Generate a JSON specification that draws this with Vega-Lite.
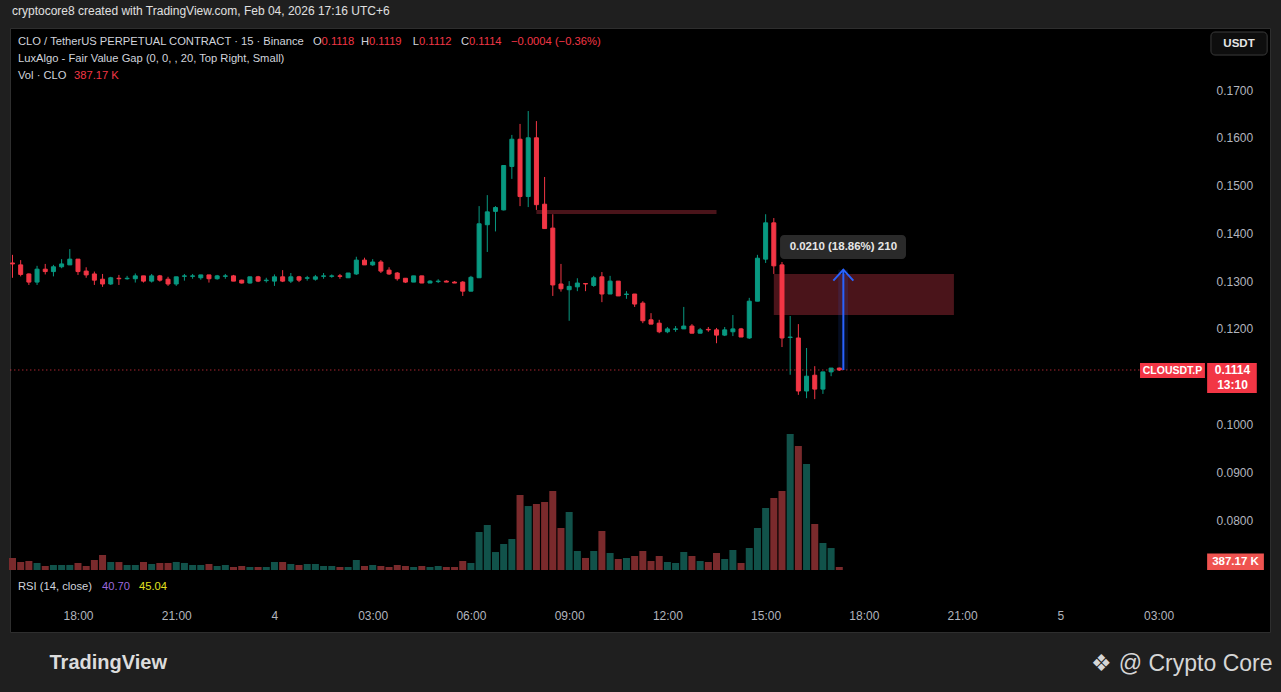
{
  "$schema": "https://vega.github.io/schema/vega-lite/v6.json",
  "width": 1260,
  "height": 604,
  "autosize": {"type": "none"},
  "padding": {"left": 10, "top": 28, "right": 11, "bottom": 60},
  "background": "#1f1f1f",
  "config": {
    "view": {"fill": "#000000", "stroke": "#2e2e2e"},
    "font": "Liberation Sans",
    "text": {"font": "Liberation Sans"}
  },
  "title": {
    "text": "cryptocore8 created with TradingView.com, Feb 04, 2026 17:16 UTC+6",
    "anchor": "start",
    "frame": "group",
    "dx": 2,
    "offset": 10,
    "fontSize": 12,
    "fontWeight": "normal",
    "font": "Liberation Sans",
    "color": "#e0e0e0"
  },
  "datasets": {
    "candles": [
      {"t": "2026-02-03T16:00Z", "o": 0.1338, "h": 0.1355, "l": 0.1307, "c": 0.1336, "v": 1551240},
      {"t": "2026-02-03T16:15Z", "o": 0.1334, "h": 0.1344, "l": 0.1310, "c": 0.1314, "v": 1029870},
      {"t": "2026-02-03T16:30Z", "o": 0.1315, "h": 0.1316, "l": 0.1292, "c": 0.1298, "v": 1164330},
      {"t": "2026-02-03T16:45Z", "o": 0.1298, "h": 0.1332, "l": 0.1292, "c": 0.1325, "v": 902150},
      {"t": "2026-02-03T17:00Z", "o": 0.1325, "h": 0.1336, "l": 0.1314, "c": 0.1320, "v": 518760},
      {"t": "2026-02-03T17:15Z", "o": 0.1320, "h": 0.1334, "l": 0.1310, "c": 0.1330, "v": 641920},
      {"t": "2026-02-03T17:30Z", "o": 0.1330, "h": 0.1346, "l": 0.1327, "c": 0.1336, "v": 647310},
      {"t": "2026-02-03T17:45Z", "o": 0.1334, "h": 0.1367, "l": 0.1334, "c": 0.1346, "v": 650480},
      {"t": "2026-02-03T18:00Z", "o": 0.1346, "h": 0.1346, "l": 0.1313, "c": 0.1320, "v": 906720},
      {"t": "2026-02-03T18:15Z", "o": 0.1321, "h": 0.1329, "l": 0.1307, "c": 0.1313, "v": 512640},
      {"t": "2026-02-03T18:30Z", "o": 0.1315, "h": 0.1320, "l": 0.1292, "c": 0.1302, "v": 1287550},
      {"t": "2026-02-03T18:45Z", "o": 0.1304, "h": 0.1315, "l": 0.1288, "c": 0.1294, "v": 1938410},
      {"t": "2026-02-03T19:00Z", "o": 0.1294, "h": 0.1309, "l": 0.1292, "c": 0.1307, "v": 1034760},
      {"t": "2026-02-03T19:15Z", "o": 0.1306, "h": 0.1313, "l": 0.1292, "c": 0.1305, "v": 1028300},
      {"t": "2026-02-03T19:30Z", "o": 0.1305, "h": 0.1311, "l": 0.1303, "c": 0.1306, "v": 644180},
      {"t": "2026-02-03T19:45Z", "o": 0.1305, "h": 0.1316, "l": 0.1297, "c": 0.1311, "v": 648920},
      {"t": "2026-02-03T20:00Z", "o": 0.1311, "h": 0.1311, "l": 0.1297, "c": 0.1300, "v": 1031570},
      {"t": "2026-02-03T20:15Z", "o": 0.1300, "h": 0.1315, "l": 0.1297, "c": 0.1311, "v": 771230},
      {"t": "2026-02-03T20:30Z", "o": 0.1311, "h": 0.1313, "l": 0.1299, "c": 0.1302, "v": 905660},
      {"t": "2026-02-03T20:45Z", "o": 0.1304, "h": 0.1309, "l": 0.1290, "c": 0.1294, "v": 899480},
      {"t": "2026-02-03T21:00Z", "o": 0.1294, "h": 0.1309, "l": 0.1290, "c": 0.1309, "v": 1036920},
      {"t": "2026-02-03T21:15Z", "o": 0.1310, "h": 0.1315, "l": 0.1301, "c": 0.1311, "v": 907140},
      {"t": "2026-02-03T21:30Z", "o": 0.1310, "h": 0.1315, "l": 0.1305, "c": 0.1311, "v": 643750},
      {"t": "2026-02-03T21:45Z", "o": 0.1307, "h": 0.1313, "l": 0.1303, "c": 0.1313, "v": 646210},
      {"t": "2026-02-03T22:00Z", "o": 0.1313, "h": 0.1313, "l": 0.1297, "c": 0.1305, "v": 776840},
      {"t": "2026-02-03T22:15Z", "o": 0.1305, "h": 0.1313, "l": 0.1303, "c": 0.1311, "v": 514970},
      {"t": "2026-02-03T22:30Z", "o": 0.1310, "h": 0.1315, "l": 0.1305, "c": 0.1311, "v": 645390},
      {"t": "2026-02-03T22:45Z", "o": 0.1311, "h": 0.1313, "l": 0.1300, "c": 0.1300, "v": 389620},
      {"t": "2026-02-03T23:00Z", "o": 0.1302, "h": 0.1303, "l": 0.1295, "c": 0.1296, "v": 517830},
      {"t": "2026-02-03T23:15Z", "o": 0.1296, "h": 0.1309, "l": 0.1295, "c": 0.1309, "v": 384910},
      {"t": "2026-02-03T23:30Z", "o": 0.1309, "h": 0.1311, "l": 0.1298, "c": 0.1300, "v": 388270},
      {"t": "2026-02-03T23:45Z", "o": 0.1301, "h": 0.1307, "l": 0.1297, "c": 0.1302, "v": 386450},
      {"t": "2026-02-04T00:00Z", "o": 0.1300, "h": 0.1314, "l": 0.1290, "c": 0.1309, "v": 1033180},
      {"t": "2026-02-04T00:15Z", "o": 0.1309, "h": 0.1323, "l": 0.1298, "c": 0.1300, "v": 1030640},
      {"t": "2026-02-04T00:30Z", "o": 0.1300, "h": 0.1317, "l": 0.1296, "c": 0.1309, "v": 772510},
      {"t": "2026-02-04T00:45Z", "o": 0.1309, "h": 0.1311, "l": 0.1298, "c": 0.1302, "v": 646830},
      {"t": "2026-02-04T01:00Z", "o": 0.1306, "h": 0.1311, "l": 0.1301, "c": 0.1307, "v": 775960},
      {"t": "2026-02-04T01:15Z", "o": 0.1304, "h": 0.1313, "l": 0.1301, "c": 0.1309, "v": 773420},
      {"t": "2026-02-04T01:30Z", "o": 0.1310, "h": 0.1317, "l": 0.1305, "c": 0.1311, "v": 515280},
      {"t": "2026-02-04T01:45Z", "o": 0.1310, "h": 0.1314, "l": 0.1307, "c": 0.1311, "v": 517640},
      {"t": "2026-02-04T02:00Z", "o": 0.1311, "h": 0.1315, "l": 0.1305, "c": 0.1310, "v": 386930},
      {"t": "2026-02-04T02:15Z", "o": 0.1307, "h": 0.1317, "l": 0.1307, "c": 0.1317, "v": 388740},
      {"t": "2026-02-04T02:30Z", "o": 0.1315, "h": 0.1351, "l": 0.1313, "c": 0.1344, "v": 1292460},
      {"t": "2026-02-04T02:45Z", "o": 0.1344, "h": 0.1349, "l": 0.1334, "c": 0.1334, "v": 515730},
      {"t": "2026-02-04T03:00Z", "o": 0.1334, "h": 0.1346, "l": 0.1332, "c": 0.1340, "v": 644560},
      {"t": "2026-02-04T03:15Z", "o": 0.1340, "h": 0.1344, "l": 0.1317, "c": 0.1321, "v": 519410},
      {"t": "2026-02-04T03:30Z", "o": 0.1323, "h": 0.1329, "l": 0.1313, "c": 0.1315, "v": 387850},
      {"t": "2026-02-04T03:45Z", "o": 0.1317, "h": 0.1319, "l": 0.1301, "c": 0.1305, "v": 646970},
      {"t": "2026-02-04T04:00Z", "o": 0.1306, "h": 0.1306, "l": 0.1296, "c": 0.1298, "v": 513290},
      {"t": "2026-02-04T04:15Z", "o": 0.1298, "h": 0.1311, "l": 0.1298, "c": 0.1311, "v": 385770},
      {"t": "2026-02-04T04:30Z", "o": 0.1311, "h": 0.1311, "l": 0.1296, "c": 0.1296, "v": 516480},
      {"t": "2026-02-04T04:45Z", "o": 0.1296, "h": 0.1302, "l": 0.1296, "c": 0.1300, "v": 388160},
      {"t": "2026-02-04T05:00Z", "o": 0.1299, "h": 0.1304, "l": 0.1296, "c": 0.1300, "v": 514610},
      {"t": "2026-02-04T05:15Z", "o": 0.1300, "h": 0.1302, "l": 0.1298, "c": 0.1298, "v": 386220},
      {"t": "2026-02-04T05:30Z", "o": 0.1298, "h": 0.1300, "l": 0.1296, "c": 0.1296, "v": 389410},
      {"t": "2026-02-04T05:45Z", "o": 0.1298, "h": 0.1300, "l": 0.1269, "c": 0.1279, "v": 1163870},
      {"t": "2026-02-04T06:00Z", "o": 0.1279, "h": 0.1311, "l": 0.1279, "c": 0.1308, "v": 904380},
      {"t": "2026-02-04T06:15Z", "o": 0.1307, "h": 0.1457, "l": 0.1307, "c": 0.1420, "v": 4898650},
      {"t": "2026-02-04T06:30Z", "o": 0.1418, "h": 0.1480, "l": 0.1361, "c": 0.1445, "v": 5807920},
      {"t": "2026-02-04T06:45Z", "o": 0.1446, "h": 0.1457, "l": 0.1404, "c": 0.1454, "v": 2318460},
      {"t": "2026-02-04T07:00Z", "o": 0.1449, "h": 0.1543, "l": 0.1448, "c": 0.1542, "v": 3357210},
      {"t": "2026-02-04T07:15Z", "o": 0.1540, "h": 0.1606, "l": 0.1514, "c": 0.1597, "v": 3996840},
      {"t": "2026-02-04T07:30Z", "o": 0.1597, "h": 0.1629, "l": 0.1457, "c": 0.1477, "v": 9678530},
      {"t": "2026-02-04T07:45Z", "o": 0.1477, "h": 0.1656, "l": 0.1455, "c": 0.1600, "v": 8251960},
      {"t": "2026-02-04T08:00Z", "o": 0.1600, "h": 0.1635, "l": 0.1449, "c": 0.1460, "v": 8517340},
      {"t": "2026-02-04T08:15Z", "o": 0.1461, "h": 0.1518, "l": 0.1410, "c": 0.1410, "v": 8769180},
      {"t": "2026-02-04T08:30Z", "o": 0.1411, "h": 0.1440, "l": 0.1269, "c": 0.1292, "v": 10187620},
      {"t": "2026-02-04T08:45Z", "o": 0.1294, "h": 0.1336, "l": 0.1278, "c": 0.1284, "v": 5421370},
      {"t": "2026-02-04T09:00Z", "o": 0.1282, "h": 0.1300, "l": 0.1217, "c": 0.1289, "v": 7485940},
      {"t": "2026-02-04T09:15Z", "o": 0.1288, "h": 0.1306, "l": 0.1279, "c": 0.1296, "v": 2447830},
      {"t": "2026-02-04T09:30Z", "o": 0.1295, "h": 0.1296, "l": 0.1279, "c": 0.1294, "v": 1552690},
      {"t": "2026-02-04T09:45Z", "o": 0.1291, "h": 0.1311, "l": 0.1288, "c": 0.1307, "v": 2453160},
      {"t": "2026-02-04T10:00Z", "o": 0.1309, "h": 0.1319, "l": 0.1256, "c": 0.1273, "v": 5028470},
      {"t": "2026-02-04T10:15Z", "o": 0.1273, "h": 0.1311, "l": 0.1273, "c": 0.1300, "v": 2196350},
      {"t": "2026-02-04T10:30Z", "o": 0.1300, "h": 0.1300, "l": 0.1269, "c": 0.1269, "v": 1416720},
      {"t": "2026-02-04T10:45Z", "o": 0.1272, "h": 0.1279, "l": 0.1263, "c": 0.1273, "v": 1550380},
      {"t": "2026-02-04T11:00Z", "o": 0.1273, "h": 0.1273, "l": 0.1246, "c": 0.1252, "v": 1809240},
      {"t": "2026-02-04T11:15Z", "o": 0.1254, "h": 0.1258, "l": 0.1212, "c": 0.1217, "v": 2449570},
      {"t": "2026-02-04T11:30Z", "o": 0.1219, "h": 0.1233, "l": 0.1210, "c": 0.1210, "v": 1158920},
      {"t": "2026-02-04T11:45Z", "o": 0.1212, "h": 0.1219, "l": 0.1191, "c": 0.1194, "v": 1803610},
      {"t": "2026-02-04T12:00Z", "o": 0.1194, "h": 0.1204, "l": 0.1191, "c": 0.1200, "v": 1035470},
      {"t": "2026-02-04T12:15Z", "o": 0.1199, "h": 0.1206, "l": 0.1194, "c": 0.1200, "v": 906280},
      {"t": "2026-02-04T12:30Z", "o": 0.1200, "h": 0.1246, "l": 0.1200, "c": 0.1206, "v": 2325140},
      {"t": "2026-02-04T12:45Z", "o": 0.1206, "h": 0.1210, "l": 0.1191, "c": 0.1191, "v": 1807950},
      {"t": "2026-02-04T13:00Z", "o": 0.1191, "h": 0.1202, "l": 0.1191, "c": 0.1198, "v": 1164750},
      {"t": "2026-02-04T13:15Z", "o": 0.1199, "h": 0.1204, "l": 0.1194, "c": 0.1198, "v": 1033620},
      {"t": "2026-02-04T13:30Z", "o": 0.1198, "h": 0.1202, "l": 0.1170, "c": 0.1187, "v": 2191480},
      {"t": "2026-02-04T13:45Z", "o": 0.1187, "h": 0.1204, "l": 0.1185, "c": 0.1198, "v": 1421360},
      {"t": "2026-02-04T14:00Z", "o": 0.1194, "h": 0.1229, "l": 0.1185, "c": 0.1200, "v": 2583790},
      {"t": "2026-02-04T14:15Z", "o": 0.1200, "h": 0.1202, "l": 0.1183, "c": 0.1183, "v": 901470},
      {"t": "2026-02-04T14:30Z", "o": 0.1181, "h": 0.1265, "l": 0.1179, "c": 0.1258, "v": 2835620},
      {"t": "2026-02-04T14:45Z", "o": 0.1258, "h": 0.1355, "l": 0.1258, "c": 0.1348, "v": 5416280},
      {"t": "2026-02-04T15:00Z", "o": 0.1346, "h": 0.1440, "l": 0.1338, "c": 0.1422, "v": 8001930},
      {"t": "2026-02-04T15:15Z", "o": 0.1422, "h": 0.1432, "l": 0.1315, "c": 0.1332, "v": 9284670},
      {"t": "2026-02-04T15:30Z", "o": 0.1334, "h": 0.1340, "l": 0.1162, "c": 0.1181, "v": 10194350},
      {"t": "2026-02-04T15:45Z", "o": 0.1182, "h": 0.1227, "l": 0.1104, "c": 0.1183, "v": 17548260},
      {"t": "2026-02-04T16:00Z", "o": 0.1181, "h": 0.1210, "l": 0.1062, "c": 0.1070, "v": 15993740},
      {"t": "2026-02-04T16:15Z", "o": 0.1070, "h": 0.1160, "l": 0.1055, "c": 0.1101, "v": 13677810},
      {"t": "2026-02-04T16:30Z", "o": 0.1103, "h": 0.1122, "l": 0.1053, "c": 0.1074, "v": 5931420},
      {"t": "2026-02-04T16:45Z", "o": 0.1074, "h": 0.1110, "l": 0.1064, "c": 0.1110, "v": 3486950},
      {"t": "2026-02-04T17:00Z", "o": 0.1110, "h": 0.1118, "l": 0.1101, "c": 0.1118, "v": 2834160},
      {"t": "2026-02-04T17:15Z", "o": 0.1118, "h": 0.1119, "l": 0.1112, "c": 0.1114, "v": 387170}
    ],
    "notes": [
      {"t": "2026-02-03T16:10:05Z", "p": 0.18005, "txt": "CLO / TetherUS PERPETUAL CONTRACT · 15 · Binance", "k": "label"},
      {"t": "2026-02-04T01:26:24Z", "p": 0.18005, "txt": "O", "k": "letter"},
      {"t": "2026-02-04T01:26:24Z", "p": 0.18005, "txt": "0.1118", "k": "down"},
      {"t": "2026-02-04T02:53:18Z", "p": 0.18005, "txt": "H", "k": "letter"},
      {"t": "2026-02-04T02:53:18Z", "p": 0.18005, "txt": "0.1119", "k": "down"},
      {"t": "2026-02-04T04:24:54Z", "p": 0.18005, "txt": "L", "k": "letter"},
      {"t": "2026-02-04T04:24:54Z", "p": 0.18005, "txt": "0.1112", "k": "down"},
      {"t": "2026-02-04T05:56:30Z", "p": 0.18005, "txt": "C", "k": "letter"},
      {"t": "2026-02-04T05:56:30Z", "p": 0.18005, "txt": "0.1114", "k": "down"},
      {"t": "2026-02-04T07:13:30Z", "p": 0.18005, "txt": "−0.0004 (−0.36%)", "k": "down"},
      {"t": "2026-02-03T16:10:05Z", "p": 0.17649, "txt": "LuxAlgo - Fair Value Gap (0, 0, , 20, Top Right, Small)", "k": "label"},
      {"t": "2026-02-03T16:10:05Z", "p": 0.17293, "txt": "Vol · CLO", "k": "label"},
      {"t": "2026-02-03T17:52:42Z", "p": 0.17293, "txt": "387.17 K", "k": "down"},
      {"t": "2026-02-03T16:10:05Z", "p": 0.06598, "txt": "RSI (14, close)", "k": "label"},
      {"t": "2026-02-03T18:44:00Z", "p": 0.06598, "txt": "40.70", "k": "rsi"},
      {"t": "2026-02-03T19:51:48Z", "p": 0.06598, "txt": "45.04", "k": "rsima"}
    ]
  },
  "encoding": {
    "x": {
      "field": "t",
      "type": "temporal",
      "scale": {
        "type": "utc",
        "padding": 0,
        "domain": [
          {"year": 2026, "month": 2, "date": 3, "hours": 15, "minutes": 55, "seconds": 25, "utc": true},
          {"year": 2026, "month": 2, "date": 5, "hours": 6, "minutes": 24, "seconds": 12, "utc": true}
        ]
      },
      "axis": {
        "orient": "bottom",
        "offset": -26,
        "values": [
          {"year": 2026, "month": 2, "date": 3, "hours": 18, "utc": true},
          {"year": 2026, "month": 2, "date": 3, "hours": 21, "utc": true},
          {"year": 2026, "month": 2, "date": 4, "hours": 0, "utc": true},
          {"year": 2026, "month": 2, "date": 4, "hours": 3, "utc": true},
          {"year": 2026, "month": 2, "date": 4, "hours": 6, "utc": true},
          {"year": 2026, "month": 2, "date": 4, "hours": 9, "utc": true},
          {"year": 2026, "month": 2, "date": 4, "hours": 12, "utc": true},
          {"year": 2026, "month": 2, "date": 4, "hours": 15, "utc": true},
          {"year": 2026, "month": 2, "date": 4, "hours": 18, "utc": true},
          {"year": 2026, "month": 2, "date": 4, "hours": 21, "utc": true},
          {"year": 2026, "month": 2, "date": 5, "hours": 0, "utc": true},
          {"year": 2026, "month": 2, "date": 5, "hours": 3, "utc": true}
        ],
        "labelExpr": "utchours(datum.value) === 0 ? utcFormat(datum.value, '%-d') : utcFormat(datum.value, '%H:%M')",
        "domain": false,
        "ticks": false,
        "grid": false,
        "labelFlush": false,
        "labelOverlap": false,
        "labelColor": "#b2b5be",
        "labelFont": "Liberation Sans",
        "labelFontSize": 12,
        "labelPadding": 4,
        "title": "TradingView",
        "titleX": 39,
        "titleY": 56,
        "titleAlign": "left",
        "titleBaseline": "middle",
        "titleFont": "Liberation Sans",
        "titleFontSize": 20,
        "titleFontWeight": "bold",
        "titleColor": "#dcdcdc"
      }
    }
  },
  "layer": [
    {
      "encoding": {
        "y": {
          "field": "v",
          "type": "quantitative",
          "scale": {"domain": [-7998000, 69918000], "nice": false},
          "axis": {
            "orient": "right",
            "offset": -56,
            "labels": false,
            "domain": false,
            "ticks": false,
            "grid": false,
            "title": "❖ @ Crypto Core",
            "titleAngle": 0,
            "titleX": 58,
            "titleY": 635,
            "titleAlign": "right",
            "titleBaseline": "middle",
            "titleFont": "Liberation Sans",
            "titleFontSize": 23,
            "titleFontWeight": "normal",
            "titleColor": "#d6d6d6"
          }
        }
      },
      "layer": [
        {
          "data": {"name": "candles"},
          "mark": {"type": "bar", "size": 7},
          "encoding": {
            "color": {"condition": {"test": "datum.c >= datum.o", "value": "#11524a"}, "value": "#7a2a2c"}
          }
        },
        {
          "data": {"values": [{"t": "2026-02-05T04:29Z", "t2": "2026-02-05T06:13Z", "v": 2115600, "v2": 0}]},
          "mark": {"type": "rect", "color": "#ef5350"},
          "encoding": {"x2": {"field": "t2"}, "y2": {"field": "v2"}}
        },
        {
          "data": {"values": [{"t": "2026-02-05T05:21:00Z", "v": 1032000, "txt": "387.17 K"}]},
          "mark": {"type": "text", "color": "#ffffff", "fontSize": 11.5, "fontWeight": "bold", "align": "center", "baseline": "middle"},
          "encoding": {"text": {"field": "txt"}}
        }
      ]
    },
    {
      "encoding": {
        "y": {
          "field": "p",
          "type": "quantitative",
          "scale": {"domain": [0.05656, 0.18298], "nice": false},
          "axis": {
            "orient": "right",
            "offset": -56,
            "values": [0.08, 0.09, 0.1, 0.12, 0.13, 0.14, 0.15, 0.16, 0.17],
            "format": ".4f",
            "domain": false,
            "ticks": false,
            "grid": false,
            "labelAlign": "left",
            "labelPadding": 2,
            "labelColor": "#b2b5be",
            "labelFont": "Liberation Sans",
            "labelFontSize": 12,
            "title": null
          }
        }
      },
      "layer": [
        {
          "data": {"values": [{"t": "2026-02-04T15:15Z", "t2": "2026-02-04T20:45Z", "p": 0.1315, "p2": 0.1229}]},
          "mark": {"type": "rect", "color": "#4a141a"},
          "encoding": {"x2": {"field": "t2"}, "y2": {"field": "p2"}}
        },
        {
          "data": {"values": [{"t": "2026-02-04T08:00Z", "t2": "2026-02-04T13:30Z", "p": 0.14447}]},
          "mark": {"type": "rule", "color": "#4a141a", "strokeWidth": 4},
          "encoding": {"x2": {"field": "t2"}}
        },
        {
          "data": {"values": [{"t": "2026-02-04T17:13Z", "t2": "2026-02-04T17:31Z", "p": 0.1114, "p2": 0.1324}]},
          "mark": {"type": "rect", "color": "#2962ff", "opacity": 0.13},
          "encoding": {"x2": {"field": "t2"}, "y2": {"field": "p2"}}
        },
        {
          "data": {"name": "candles"},
          "mark": {"type": "rule", "strokeWidth": 1},
          "encoding": {
            "y": {
              "field": "l",
              "type": "quantitative",
              "scale": {"domain": [0.05656, 0.18298], "nice": false},
              "axis": {
                "orient": "right",
                "offset": -56,
                "values": [0.08, 0.09, 0.1, 0.12, 0.13, 0.14, 0.15, 0.16, 0.17],
                "format": ".4f",
                "domain": false,
                "ticks": false,
                "grid": false,
                "labelAlign": "left",
                "labelPadding": 2,
                "labelColor": "#b2b5be",
                "labelFont": "Liberation Sans",
                "labelFontSize": 12,
                "title": null
              }
            },
            "y2": {"field": "h"},
            "color": {"condition": {"test": "datum.c >= datum.o", "value": "#089981"}, "value": "#f23645"}
          }
        },
        {
          "data": {"name": "candles"},
          "mark": {"type": "bar", "size": 4, "strokeWidth": 1},
          "encoding": {
            "y": {
              "field": "o",
              "type": "quantitative",
              "scale": {"domain": [0.05656, 0.18298], "nice": false},
              "axis": {
                "orient": "right",
                "offset": -56,
                "values": [0.08, 0.09, 0.1, 0.12, 0.13, 0.14, 0.15, 0.16, 0.17],
                "format": ".4f",
                "domain": false,
                "ticks": false,
                "grid": false,
                "labelAlign": "left",
                "labelPadding": 2,
                "labelColor": "#b2b5be",
                "labelFont": "Liberation Sans",
                "labelFontSize": 12,
                "title": null
              }
            },
            "y2": {"field": "c"},
            "color": {"condition": {"test": "datum.c >= datum.o", "value": "#089981"}, "value": "#f23645"},
            "stroke": {"condition": {"test": "datum.c >= datum.o", "value": "#089981"}, "value": "#f23645"}
          }
        },
        {
          "data": {"values": [{"t": "2026-02-03T15:56Z", "t2": "2026-02-05T02:26Z", "p": 0.1114}]},
          "mark": {"type": "rule", "color": "#f23645", "strokeWidth": 1, "strokeDash": [1, 3]},
          "encoding": {"x2": {"field": "t2"}}
        },
        {
          "data": {"values": [{"t": "2026-02-04T17:22:24Z", "p": 0.1114, "p2": 0.1324}]},
          "mark": {"type": "rule", "color": "#2962ff", "strokeWidth": 2},
          "encoding": {"y2": {"field": "p2"}}
        },
        {
          "data": {"values": [{"t": "2026-02-04T17:22:24Z", "p": 0.1324}]},
          "mark": {"type": "point", "shape": "M-1,1.1L0,0L1,1.1", "size": 400, "filled": false, "color": "#2962ff", "strokeWidth": 2, "opacity": 1},
          "encoding": {}
        },
        {
          "data": {"values": [{"t": "2026-02-04T15:26:24Z", "t2": "2026-02-04T19:17:12Z", "p": 0.13965, "p2": 0.13463}]},
          "mark": {"type": "rect", "color": "#2a2a2a", "cornerRadius": 4},
          "encoding": {"x2": {"field": "t2"}, "y2": {"field": "p2"}}
        },
        {
          "data": {"values": [{"t": "2026-02-04T17:22:24Z", "p": 0.13714, "txt": "0.0210 (18.86%) 210"}]},
          "mark": {"type": "text", "color": "#e6e6e6", "fontSize": 11.5, "fontWeight": "bold", "align": "center", "baseline": "middle"},
          "encoding": {"text": {"field": "txt"}}
        },
        {
          "data": {"values": [
            {"t": "2026-02-05T02:26Z", "t2": "2026-02-05T04:25Z", "p": 0.11286, "p2": 0.10972},
            {"t": "2026-02-05T04:29Z", "t2": "2026-02-05T06:00Z", "p": 0.11286, "p2": 0.10658}
          ]},
          "mark": {"type": "rect", "color": "#f23645"},
          "encoding": {"x2": {"field": "t2"}, "y2": {"field": "p2"}}
        },
        {
          "data": {"values": [{"t": "2026-02-05T03:25:30Z", "p": 0.11129, "txt": "CLOUSDT.P"}]},
          "mark": {"type": "text", "color": "#ffffff", "fontSize": 10.5, "fontWeight": "bold", "align": "center", "baseline": "middle"},
          "encoding": {"text": {"field": "txt"}}
        },
        {
          "data": {"values": [
            {"t": "2026-02-05T05:15:30Z", "p": 0.1114, "txt": "0.1114"},
            {"t": "2026-02-05T05:15:30Z", "p": 0.10826, "txt": "13:10"}
          ]},
          "mark": {"type": "text", "color": "#ffffff", "fontSize": 12, "fontWeight": "bold", "align": "center", "baseline": "middle"},
          "encoding": {"text": {"field": "txt"}}
        },
        {
          "data": {"values": [{"t": "2026-02-05T04:36Z", "t2": "2026-02-05T06:19Z", "p": 0.18214, "p2": 0.17732}]},
          "mark": {"type": "rect", "fill": "#0e0e0e", "stroke": "#3a3a3a", "strokeWidth": 1, "cornerRadius": 4},
          "encoding": {"x2": {"field": "t2"}, "y2": {"field": "p2"}}
        },
        {
          "data": {"values": [{"t": "2026-02-05T05:27:24Z", "p": 0.17973, "txt": "USDT"}]},
          "mark": {"type": "text", "color": "#e6e6e6", "fontSize": 11.5, "fontWeight": "bold", "align": "center", "baseline": "middle"},
          "encoding": {"text": {"field": "txt"}}
        },
        {
          "data": {"name": "notes"},
          "transform": [{"filter": "datum.k !== 'letter'"}],
          "mark": {"type": "text", "fontSize": 11.2, "align": "left", "baseline": "middle"},
          "encoding": {
            "text": {"field": "txt"},
            "color": {
              "field": "k",
              "type": "nominal",
              "scale": {"domain": ["label", "down", "rsi", "rsima"], "range": ["#d1d4dc", "#f23645", "#9c6ade", "#e2e21f"]},
              "legend": null
            }
          }
        },
        {
          "data": {"name": "notes"},
          "transform": [{"filter": "datum.k === 'letter'"}],
          "mark": {"type": "text", "fontSize": 11.2, "align": "right", "baseline": "middle", "color": "#d1d4dc"},
          "encoding": {"text": {"field": "txt"}}
        }
      ]
    }
  ],
  "resolve": {"scale": {"y": "independent"}}
}
